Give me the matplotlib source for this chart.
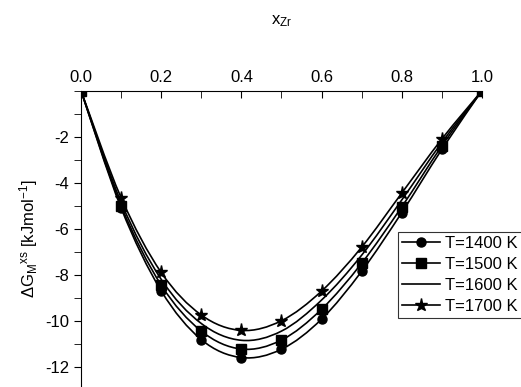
import matplotlib
matplotlib.use("Agg")
import matplotlib.pyplot as plt
import numpy as np
from matplotlib.path import Path
from matplotlib.patches import PathPatch
from matplotlib.ticker import MultipleLocator, FormatStrFormatter

plt.rcParams['font.family'] = ['Liberation Sans', 'DejaVu Sans']
plt.rcParams['mathtext.fontset'] = 'custom'
plt.rcParams['mathtext.rm'] = 'Liberation Sans'
plt.rcParams['mathtext.it'] = 'Liberation Sans'
plt.rcParams['axes.unicode_minus'] = False

# composition and excess Gibbs energy (kJ/mol)
x_zr = [0.0, 0.1, 0.2, 0.3, 0.4, 0.5, 0.6, 0.7, 0.8, 0.9, 1.0]
g_1400 = [0.0, -5.1, -8.7, -10.82, -11.6, -11.24, -9.93, -7.85, -5.3, -2.55, 0.0]
g_1500 = [0.0, -5.0, -8.45, -10.45, -11.23, -10.84, -9.5, -7.5, -5.05, -2.4, 0.0]
g_1600 = [0.0, -4.85, -8.2, -10.12, -10.85, -10.45, -9.1, -7.15, -4.75, -2.25, 0.0]
g_1700 = [0.0, -4.65, -7.9, -9.75, -10.42, -10.0, -8.71, -6.8, -4.45, -2.1, 0.0]
labels = ["T=1400 K", "T=1500 K", "T=1600 K", "T=1700 K"]
markers = ["o", "s", None, "*"]


def smooth_path(x, y):
    # Catmull-Rom spline through the points, as cubic bezier segments
    p = np.column_stack([x, y])
    verts = [p[0]]
    codes = [Path.MOVETO]
    n = len(p)
    for i in range(n - 1):
        p0 = p[i - 1] if i > 0 else p[i]
        p1, p2 = p[i], p[i + 1]
        p3 = p[i + 2] if i + 2 < n else p[i + 1]
        c1 = p1 + (p2 - p0) / 6.0
        c2 = p2 - (p3 - p1) / 6.0
        verts += [c1, c2, p2]
        codes += [Path.CURVE4] * 3
    return Path(verts, codes)


fig = plt.figure(figsize=(5.21, 3.87), dpi=100)
ax = fig.add_axes([0.1555, 0.0, 0.7695, 0.7656])

handles = []
for g, lab, m in zip([g_1400, g_1500, g_1600, g_1700], labels, markers):
    ms = 9.5 if m == "*" else 6.5
    ax.add_patch(PathPatch(smooth_path(x_zr, g), fill=False, lw=1.2, edgecolor='black'))
    if m is not None:
        ax.plot(x_zr, g, linestyle='none', marker=m, ms=ms, color='black')
    h, = ax.plot([], [], color='black', lw=1.2, marker=m, ms=ms)
    handles.append(h)

ax.set_xlim(0, 1)
ax.set_ylim(-12.88, 0)
ax.xaxis.set_ticks_position('top')
ax.xaxis.set_label_position('top')
ax.spines['right'].set_visible(False)
ax.spines['bottom'].set_visible(False)
ax.xaxis.set_major_locator(MultipleLocator(0.2))
ax.xaxis.set_minor_locator(MultipleLocator(0.1))
ax.yaxis.set_minor_locator(MultipleLocator(1))
ax.set_yticks([-2, -4, -6, -8, -10, -12])
ax.xaxis.set_major_formatter(FormatStrFormatter('%.1f'))
ax.tick_params(axis='x', which='both', direction='in', length=5, labelsize=12, pad=4)
ax.tick_params(axis='y', which='both', direction='out', length=5, labelsize=12)

ax.set_xlabel(r'x$_{\mathregular{Zr}}$', fontsize=12, labelpad=33)
ax.set_ylabel(r'$\Delta$G$_{\mathregular{M}}$$^{\mathregular{xs}}$ [kJmol$^{\mathregular{-1}}$]', fontsize=12, labelpad=4)

leg = ax.legend(handles, labels, loc='upper left', bbox_to_anchor=(0.79, 0.523),
                fontsize=12, frameon=True, fancybox=False, edgecolor='black',
                borderpad=0.25, labelspacing=0.35, handlelength=2.3, handletextpad=0.3,
                borderaxespad=0)
leg.get_frame().set_linewidth(0.8)

fig.savefig('out.png', dpi=100)
